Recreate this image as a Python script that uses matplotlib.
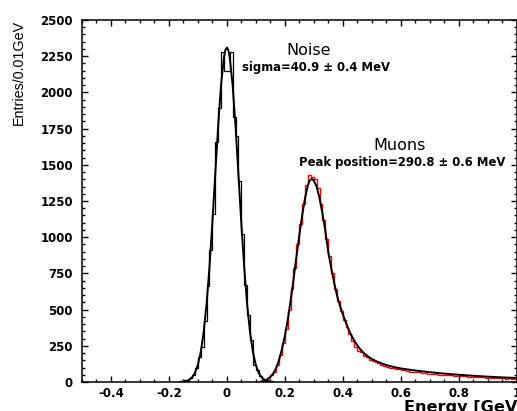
import numpy as np
import matplotlib
matplotlib.use("Agg")
import matplotlib.pyplot as plt
from matplotlib.ticker import MultipleLocator, FormatStrFormatter

# histogram contents, 0.01 GeV bins
noise_lo = -0.16
noise_counts = [3, 12, 8, 25, 45, 95, 170, 240, 420, 660, 910, 1160, 1660, 1890, 2280, 2150,
                2150, 2280, 1830, 1700, 1390, 1020, 670, 460, 290, 120, 80, 40, 15, 5, 5, 2]

muon_lo = 0.10
muon_counts = [2, 5, 8, 12, 25, 45, 70, 120, 185, 270,
               365, 500, 640, 790, 950, 1090, 1230, 1360, 1432, 1418,
               1405, 1340, 1230, 1120, 990, 870, 755, 640, 560, 490,
               430, 380, 330, 280, 245, 215, 205, 180, 170, 150,
               148, 135, 128, 120, 112, 104, 100, 96, 90, 88,
               84, 80, 78, 72, 70, 68, 66, 62, 60, 58,
               56, 54, 55, 50, 49, 48, 45, 46, 42, 44,
               40, 38, 38, 36, 35, 36, 33, 32, 33, 30,
               30, 28, 29, 27, 26, 27, 24, 25, 23, 24]
bin_width = 0.01

# fit curves
noise_fit_x = [-0.16, -0.15, -0.14, -0.13, -0.12, -0.11, -0.10, -0.09, -0.08, -0.07, -0.06,
               -0.05, -0.04, -0.03, -0.02, -0.01, -0.005, 0.0, 0.005, 0.01, 0.02, 0.03,
               0.04, 0.05, 0.06, 0.07, 0.08, 0.09, 0.10, 0.11, 0.12, 0.13, 0.14, 0.15, 0.16]
noise_fit_y = [1, 3, 7, 15, 32, 63, 118, 208, 345, 538, 792,
               1098, 1435, 1767, 2051, 2242, 2293, 2310, 2293, 2242, 2051, 1767,
               1435, 1098, 792, 538, 345, 208, 118, 63, 32, 15, 7, 3, 1]

muon_fit_x = [0.12, 0.13, 0.14, 0.15, 0.16, 0.17, 0.18, 0.19, 0.20, 0.21, 0.22, 0.23, 0.24,
              0.25, 0.26, 0.27, 0.28, 0.285, 0.29, 0.295, 0.30, 0.31, 0.32, 0.33, 0.34, 0.35,
              0.36, 0.37, 0.38, 0.39, 0.40, 0.41, 0.42, 0.43, 0.44, 0.45, 0.46, 0.47, 0.48,
              0.49, 0.50, 0.52, 0.54, 0.56, 0.58, 0.60, 0.64, 0.70, 0.75, 0.80, 0.85, 0.90,
              0.95, 1.00]
muon_fit_y = [5, 10, 18, 35, 58, 95, 150, 225, 315, 425, 560, 705, 860,
              1010, 1150, 1270, 1360, 1388, 1400, 1400, 1392, 1350, 1270, 1165, 1045, 900,
              790, 690, 600, 530, 470, 415, 365, 322, 285, 255, 228, 206, 188,
              172, 160, 140, 124, 112, 102, 94, 82, 68, 58, 50, 43, 37,
              32, 28]

fig = plt.figure(figsize=(5.17, 4.11), dpi=100)
ax = fig.add_axes([82 / 517, 29 / 411, 434.5 / 517, 362 / 411])

noise_edges = noise_lo + bin_width * np.arange(len(noise_counts) + 1)
muon_edges = muon_lo + bin_width * np.arange(len(muon_counts) + 1)

ax.stairs(muon_counts, muon_edges, color="red", lw=1.0)
ax.stairs(noise_counts, noise_edges, color="black", lw=0.9)
ax.plot(noise_fit_x, noise_fit_y, color="black", lw=1.4)
ax.plot(muon_fit_x, muon_fit_y, color="black", lw=1.4)

ax.set_xlim(-0.5, 1.0)
ax.set_ylim(0, 2500)
ax.xaxis.set_major_locator(MultipleLocator(0.2))
ax.xaxis.set_minor_locator(MultipleLocator(0.05))
ax.yaxis.set_major_locator(MultipleLocator(250))
ax.yaxis.set_minor_locator(MultipleLocator(50))
ax.xaxis.set_major_formatter(FormatStrFormatter("%g"))
ax.tick_params(which="both", direction="in", top=True, right=True, width=1.0)
ax.tick_params(which="major", length=4.2)
ax.tick_params(which="minor", length=2.5)
ax.tick_params(axis="x", pad=3.4)
ax.tick_params(axis="y", pad=6.5)
for lab in ax.get_xticklabels() + ax.get_yticklabels():
    lab.set_fontfamily("DejaVu Sans")
    lab.set_fontweight("bold")
    lab.set_fontsize(8.5)
for sp in ax.spines.values():
    sp.set_linewidth(1.1)

ax.text(0.282, 2286, "Noise", ha="center", va="center", fontsize=11.5)
ax.text(0.309, 2175, "sigma=40.9 \u00b1 0.4 MeV", ha="center", va="center",
        fontsize=8.4, fontweight="bold")
ax.text(0.598, 1630, "Muons", ha="center", va="center", fontsize=11.5)
ax.text(0.606, 1519, "Peak position=290.8 \u00b1 0.6 MeV", ha="center", va="center",
        fontsize=8.4, fontweight="bold")

fig.text(19 / 517, 1 - 20 / 411, "Entries/0.01GeV", rotation=90, ha="center", va="top",
         fontfamily="Liberation Sans", fontsize=10.3)
fig.text(404 / 517, -0.7 / 411, "Energy [GeV]", ha="left", va="baseline",
         fontweight="bold", fontsize=11.6)

fig.savefig("out.png", dpi=100)
